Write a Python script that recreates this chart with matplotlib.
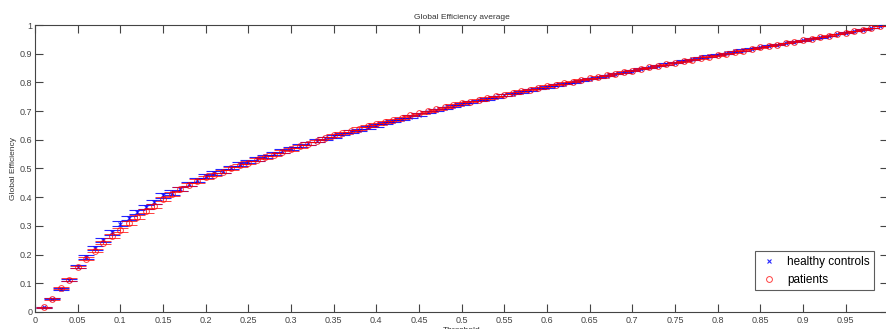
import matplotlib
matplotlib.use("Agg")
import matplotlib.pyplot as plt
import numpy as np

plt.rcParams['font.family'] = ['Liberation Sans', 'DejaVu Sans']

thresholds = [round(0.01 * k, 2) for k in range(1, 100)]

controls_mean = [
    0.016, 0.046, 0.080, 0.112, 0.157, 0.192, 0.222, 0.251, 0.278, 0.308,
    0.328, 0.349, 0.366, 0.383, 0.406, 0.416, 0.430, 0.446, 0.460, 0.474,
    0.483, 0.491, 0.503, 0.515, 0.524, 0.533, 0.542, 0.552, 0.561, 0.570,
    0.579, 0.588, 0.597, 0.605, 0.613, 0.620, 0.628, 0.635, 0.643, 0.650,
    0.658, 0.665, 0.673, 0.681, 0.688, 0.696, 0.703, 0.710, 0.717, 0.724,
    0.731, 0.737, 0.743, 0.749, 0.755, 0.761, 0.767, 0.773, 0.779, 0.785,
    0.790, 0.796, 0.801, 0.807, 0.813, 0.818, 0.824, 0.830, 0.835, 0.841,
    0.847, 0.852, 0.858, 0.864, 0.869, 0.875, 0.880, 0.887, 0.892, 0.897,
    0.902, 0.908, 0.913, 0.918, 0.923, 0.928, 0.932, 0.937, 0.942, 0.947,
    0.952, 0.957, 0.962, 0.968, 0.973, 0.979, 0.984, 0.990, 0.997,
]

patients_mean = [
    0.017, 0.045, 0.084, 0.113, 0.156, 0.185, 0.214, 0.242, 0.264, 0.285,
    0.310, 0.331, 0.351, 0.371, 0.393, 0.410, 0.428, 0.444, 0.457, 0.469,
    0.479, 0.489, 0.500, 0.511, 0.520, 0.530, 0.539, 0.548, 0.558, 0.567,
    0.577, 0.587, 0.596, 0.606, 0.615, 0.623, 0.631, 0.639, 0.647, 0.655,
    0.662, 0.670, 0.677, 0.685, 0.692, 0.699, 0.706, 0.713, 0.720, 0.727,
    0.733, 0.739, 0.745, 0.751, 0.757, 0.763, 0.769, 0.775, 0.781, 0.787,
    0.792, 0.798, 0.803, 0.809, 0.814, 0.819, 0.825, 0.830, 0.836, 0.841,
    0.847, 0.852, 0.858, 0.863, 0.869, 0.874, 0.879, 0.885, 0.890, 0.895,
    0.900, 0.906, 0.911, 0.917, 0.922, 0.927, 0.932, 0.937, 0.942, 0.947,
    0.952, 0.958, 0.963, 0.968, 0.973, 0.979, 0.984, 0.990, 0.997,
]

controls_err = [
    0.002, 0.002, 0.003, 0.004, 0.005, 0.006, 0.007, 0.007, 0.008, 0.008,
    0.008, 0.008, 0.008, 0.008, 0.008, 0.008, 0.007, 0.007, 0.007, 0.007,
    0.007, 0.007, 0.006, 0.006, 0.006, 0.006, 0.006, 0.006, 0.006, 0.005,
    0.005, 0.005, 0.005, 0.005, 0.005, 0.005, 0.005, 0.004, 0.004, 0.004,
    0.004, 0.004, 0.004, 0.004, 0.004, 0.004, 0.004, 0.003, 0.003, 0.003,
    0.003, 0.003, 0.003, 0.003, 0.003, 0.003, 0.003, 0.003, 0.003, 0.003,
    0.003, 0.003, 0.002, 0.002, 0.002, 0.002, 0.002, 0.002, 0.002, 0.002,
    0.002, 0.002, 0.002, 0.002, 0.002, 0.002, 0.002, 0.002, 0.002, 0.002,
    0.002, 0.002, 0.002, 0.001, 0.001, 0.001, 0.001, 0.001, 0.001, 0.001,
    0.001, 0.001, 0.001, 0.001, 0.001, 0.001, 0.001, 0.001, 0.001,
]

patients_err = [
    0.002, 0.003, 0.003, 0.004, 0.004, 0.005, 0.006, 0.006, 0.007, 0.007,
    0.007, 0.007, 0.007, 0.007, 0.007, 0.007, 0.006, 0.006, 0.006, 0.006,
    0.006, 0.006, 0.006, 0.005, 0.005, 0.005, 0.005, 0.005, 0.005, 0.005,
    0.005, 0.005, 0.004, 0.004, 0.004, 0.004, 0.004, 0.004, 0.004, 0.004,
    0.004, 0.004, 0.004, 0.003, 0.003, 0.003, 0.003, 0.003, 0.003, 0.003,
    0.003, 0.003, 0.003, 0.003, 0.003, 0.003, 0.003, 0.003, 0.003, 0.003,
    0.002, 0.002, 0.002, 0.002, 0.002, 0.002, 0.002, 0.002, 0.002, 0.002,
    0.002, 0.002, 0.002, 0.002, 0.002, 0.002, 0.002, 0.002, 0.002, 0.002,
    0.002, 0.002, 0.001, 0.001, 0.001, 0.001, 0.001, 0.001, 0.001, 0.001,
    0.001, 0.001, 0.001, 0.001, 0.001, 0.001, 0.001, 0.001, 0.001,
]

x_ticks = [round(0.05 * k, 2) for k in range(20)]
x_tick_labels = ['0', '0.05', '0.1', '0.15', '0.2', '0.25', '0.3', '0.35', '0.4', '0.45',
                 '0.5', '0.55', '0.6', '0.65', '0.7', '0.75', '0.8', '0.85', '0.9', '0.95']
y_ticks = [round(0.1 * k, 1) for k in range(11)]
y_tick_labels = ['0', '0.1', '0.2', '0.3', '0.4', '0.5', '0.6', '0.7', '0.8', '0.9', '1']

fig = plt.figure(figsize=(8.87, 3.29), dpi=100)
ax = fig.add_axes([0.0395, 0.0517, 0.962, 0.8723])

ax.errorbar(thresholds, controls_mean, yerr=controls_err, fmt='x', color='#0000ff',
            ecolor='#0000ff', markersize=3, markeredgewidth=0.8, elinewidth=0.8,
            capsize=6.1, capthick=1.0, label='healthy controls', zorder=3, alpha=0.85)
ax.errorbar(thresholds, patients_mean, yerr=patients_err, fmt='o', color='#ff0000',
            ecolor='#ff0000', markersize=4.2, markerfacecolor='none', markeredgewidth=0.7,
            elinewidth=0.8, capsize=6.1, capthick=1.0, label='patients', zorder=4, alpha=0.75)

ax.set_xlim(0, 1)
ax.set_ylim(0, 1)
ax.set_xticks(x_ticks)
ax.set_xticklabels(x_tick_labels)
ax.set_yticks(y_ticks)
ax.set_yticklabels(y_tick_labels)

ax.tick_params(direction='in', length=5.5, width=0.8, colors='#444444',
               labelsize=6.5, top=True, right=True, pad=2)
ax.tick_params(axis='x', pad=3)
for side in ax.spines.values():
    side.set_color('#444444')
    side.set_linewidth(0.8)

ax.set_title('Global Efficiency average', fontsize=6, color='#333333', pad=4)
ax.set_xlabel('Threshold', fontsize=6, color='#333333', labelpad=1)
ax.set_ylabel('Global Efficiency', fontsize=6, color='#333333', labelpad=2)

handles, labels = ax.get_legend_handles_labels()
handles = [h[0] for h in handles]
leg = ax.legend(handles, labels, loc='lower right', bbox_to_anchor=(0.9835, 0.075),
                fontsize=8.5, frameon=True, fancybox=False, handlelength=1.5,
                borderpad=0.4, labelspacing=0.5, handletextpad=0.8, borderaxespad=0)
leg.get_frame().set_edgecolor('#333333')
leg.get_frame().set_linewidth(0.8)

fig.savefig('out.png', dpi=100)
